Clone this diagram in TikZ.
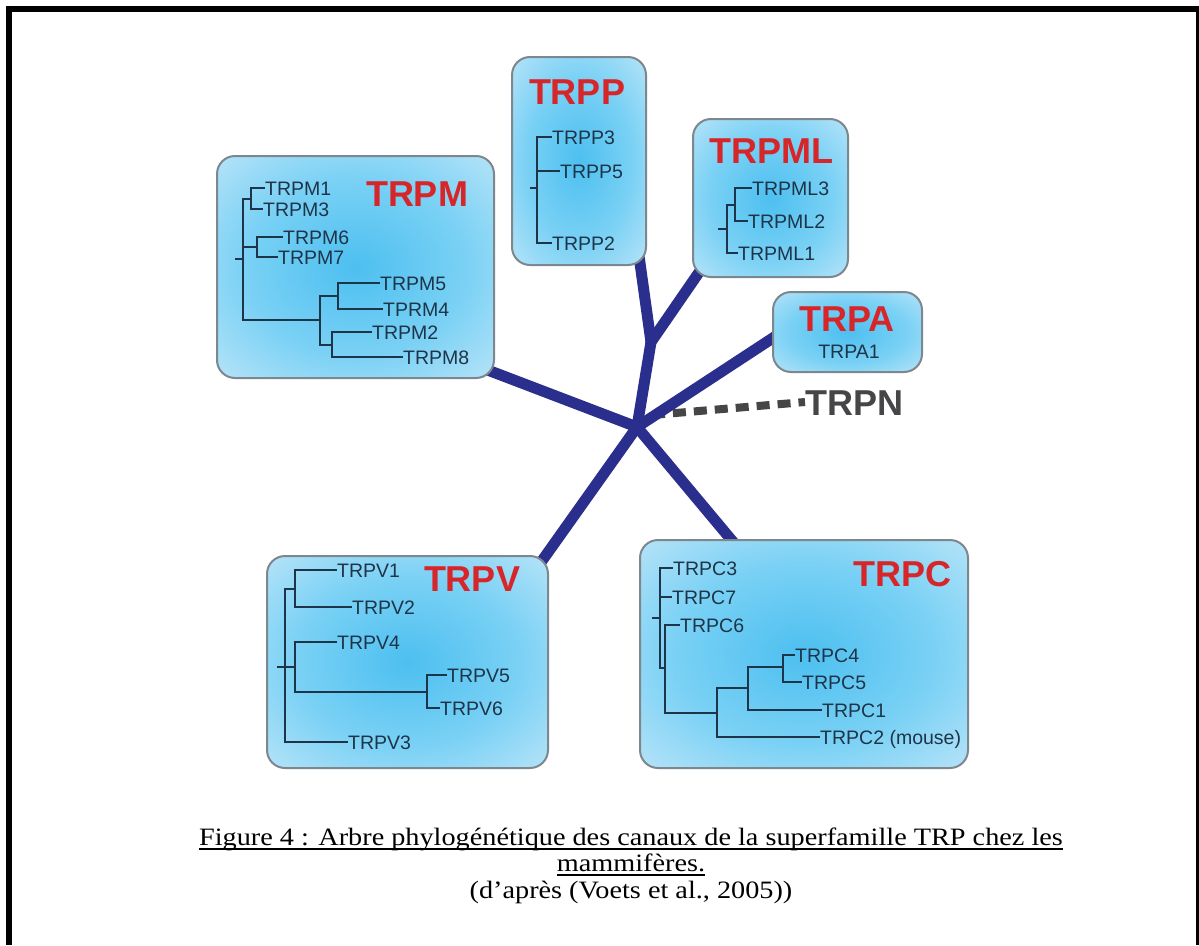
\documentclass[tikz,border=0pt]{standalone}
\usepackage{fontspec}
\setmainfont{Liberation Serif}
\newfontfamily\arialf{Liberation Sans}
\newfontfamily\capfont[FakeStretch=1.13]{Liberation Serif}
\usetikzlibrary{backgrounds}
\pgfdeclareradialshading{boxglow}{\pgfpoint{0bp}{0bp}}{rgb(0bp)=(0.30,0.75,0.94); rgb(20bp)=(0.48,0.82,0.96); rgb(44bp)=(0.84,0.93,0.98); rgb(58bp)=(0.95,0.98,0.99); rgb(72bp)=(0.99,1,1)}
\definecolor{treec}{RGB}{30,52,72}
\definecolor{titlered}{RGB}{214,38,42}
\definecolor{navy}{RGB}{42,46,140}
\definecolor{trpngray}{RGB}{70,70,72}
\definecolor{boxedge}{RGB}{125,135,142}
\tikzset{
 fambox/.style={draw=boxedge, line width=2pt, rounded corners=18pt, shade, shading=boxglow, inner sep=0pt},
 lbl/.style={anchor=west, inner sep=0pt, text=treec, font=\arialf\fontsize{19.5}{20}\selectfont, text height=14pt, text depth=0pt},
 ttl/.style={inner sep=0pt, text=titlered, font=\arialf\bfseries\fontsize{36}{38}\selectfont, text height=26pt, text depth=0pt},
 tree/.style={draw=treec, line width=2pt},
 branch/.style={draw=navy, line width=11pt, line cap=round},
 trpnline/.style={draw=trpngray, line width=8pt, dash pattern=on 13pt off 8pt},
 capt/.style={inner sep=0pt, anchor=base, font=\capfont\fontsize{25}{28}\selectfont},
 uline/.style={line width=1.6pt}
}
\begin{document}
\begin{tikzpicture}[x=1pt,y=-1pt]
\useasboundingbox (0,0) rectangle (1199,945);
% frame
\fill[black] (6,6) rectangle (12,945);
\fill[black] (6,6) rectangle (1199,12);
\fill[black] (1196,6) rectangle (1199,945);

% family boxes
\node[fambox, minimum width=277pt, minimum height=222pt] (bm) at (355.5,267) {};
\node[fambox, minimum width=134pt, minimum height=208pt] (bp) at (579,161) {};
\node[fambox, minimum width=155pt, minimum height=158pt] (bl) at (770.5,198) {};
\node[fambox, minimum width=149pt, minimum height=80pt] (ba) at (847.5,332) {};
\node[fambox, minimum width=281pt, minimum height=212pt] (bv) at (407.5,662) {};
\node[fambox, minimum width=328pt, minimum height=228pt] (bc) at (804,654) {};

% titles
\node[ttl] (tm) at (417,193) {TRPM};
\node[ttl] (tp) at (577,91) {TRPP};
\node[ttl] (tl) at (771,150) {TRPML};
\node[ttl] (ta) at (847,318) {TRPA};
\node[ttl] (tv) at (472,578) {TRPV};
\node[ttl] (tc) at (902,573) {TRPC};
\node[ttl, anchor=west, text=trpngray] (tn) at (805,402) {TRPN};

% TRPM tree
\node[lbl] (m1) at (265,188) {TRPM1};
\node[lbl] (m3) at (263,209) {TRPM3};
\node[lbl] (m6) at (283,237) {TRPM6};
\node[lbl] (m7) at (278,257) {TRPM7};
\node[lbl] (m5) at (380,283) {TRPM5};
\node[lbl] (m4) at (383,309) {TPRM4};
\node[lbl] (m2) at (372,332) {TRPM2};
\node[lbl] (m8) at (403,357) {TRPM8};
\draw[tree] (m1.west) -| (251,198.5) |- (m3.west);
\draw[tree] (m6.west) -| (257,247) |- (m7.west);
\draw[tree] (251,198.5) -- (243,198.5) -- (243,320) -- (320,320);
\draw[tree] (243,247) -- (257,247);
\draw[tree] (235,259) -- (243,259);
\draw[tree] (338,296) -- (320,296) -- (320,344.5) -- (332,344.5);
\draw[tree] (m5.west) -| (338,296) |- (m4.west);
\draw[tree] (m2.west) -| (332,344.5) |- (m8.west);

% TRPP tree
\node[lbl] (p3) at (552,137) {TRPP3};
\node[lbl] (p5) at (560,171) {TRPP5};
\node[lbl] (p2) at (552,243) {TRPP2};
\draw[tree] (p3.west) -| (537,190) |- (p2.west);
\draw[tree] (537,171) -- (p5.west);
\draw[tree] (530,188) -- (537,188);

% TRPML tree
\node[lbl] (l3) at (752,188) {TRPML3};
\node[lbl] (l2) at (748,221) {TRPML2};
\node[lbl] (l1) at (738,253) {TRPML1};
\draw[tree] (l3.west) -| (735,204.5) |- (l2.west);
\draw[tree] (735,204.5) -- (727,204.5) |- (l1.west);
\draw[tree] (718,229) -- (727,229);

% TRPA
\node[lbl, anchor=center] (a1) at (849,351) {TRPA1};

% TRPV tree
\node[lbl] (v1) at (337,570) {TRPV1};
\node[lbl] (v2) at (352,607) {TRPV2};
\node[lbl] (v4) at (337,642) {TRPV4};
\node[lbl] (v5) at (447,675) {TRPV5};
\node[lbl] (v6) at (440,708) {TRPV6};
\node[lbl] (v3) at (348,742) {TRPV3};
\draw[tree] (v1.west) -| (295,588.5) |- (v2.west);
\draw[tree] (295,588.5) -- (285,588.5) |- (v3.west);
\draw[tree] (v4.west) -| (295,667) |- (427,692);
\draw[tree] (277,667) -- (295,667);
\draw[tree] (v5.west) -| (427,692) |- (v6.west);

% TRPC tree
\node[lbl] (c3) at (673,568) {TRPC3};
\node[lbl] (c7) at (672,597) {TRPC7};
\node[lbl] (c6) at (680,625) {TRPC6};
\node[lbl] (c4) at (795,655) {TRPC4};
\node[lbl] (c5) at (802,682) {TRPC5};
\node[lbl] (c1) at (822,710) {TRPC1};
\node[lbl] (c2) at (820,737) {TRPC2 (mouse)};
\draw[tree] (c3.west) -| (660,668) -- (665,668);
\draw[tree] (660,597) -- (c7.west);
\draw[tree] (c6.west) -| (665,713) -- (717,713);
\draw[tree] (652,618) -- (660,618);
\draw[tree] (748,688) -| (717,713) |- (c2.west);
\draw[tree] (783,667) -| (748,688) |- (c1.west);
\draw[tree] (c4.west) -| (783,667) |- (c5.west);

% branches
\coordinate (C) at (637,427);
\coordinate (J) at (651,342);
\coordinate (N0) at (652,415);
\begin{scope}[on background layer]
\fill[white] (0,0) rectangle (1199,945);
\draw[trpnline] (N0) -- (tn.west);
\draw[branch] (C) -- ([xshift=-10pt,yshift=10pt]bm.south east);
\draw[branch] (C) -- ([xshift=-10pt,yshift=-10pt]bv.north east);
\draw[branch] (C) -- ([xshift=100pt,yshift=-10pt]bc.north west);
\draw[branch] (C) -- ([xshift=10pt]ba.west);
\draw[branch] (C) -- (J);
\draw[branch] (J) -- ([xshift=-8pt,yshift=10pt]bp.south east);
\draw[branch] (J) -- ([xshift=10pt,yshift=10pt]bl.south west);
\end{scope}

% caption
\node[capt] (cap1) at (631,845) {Figure 4 : Arbre phylogénétique des canaux de la superfamille TRP chez les};
\node[capt] (cap2) at (631,871) {mammifères.};
\node[capt] (cap3) at (631,898) {(d’après (Voets et al., 2005))};
\draw[uline] ([yshift=-4pt]cap1.base west) -- ([yshift=-4pt]cap1.base east);
\draw[uline] ([yshift=-4pt]cap2.base west) -- ([yshift=-4pt]cap2.base east);
\end{tikzpicture}
\end{document}
